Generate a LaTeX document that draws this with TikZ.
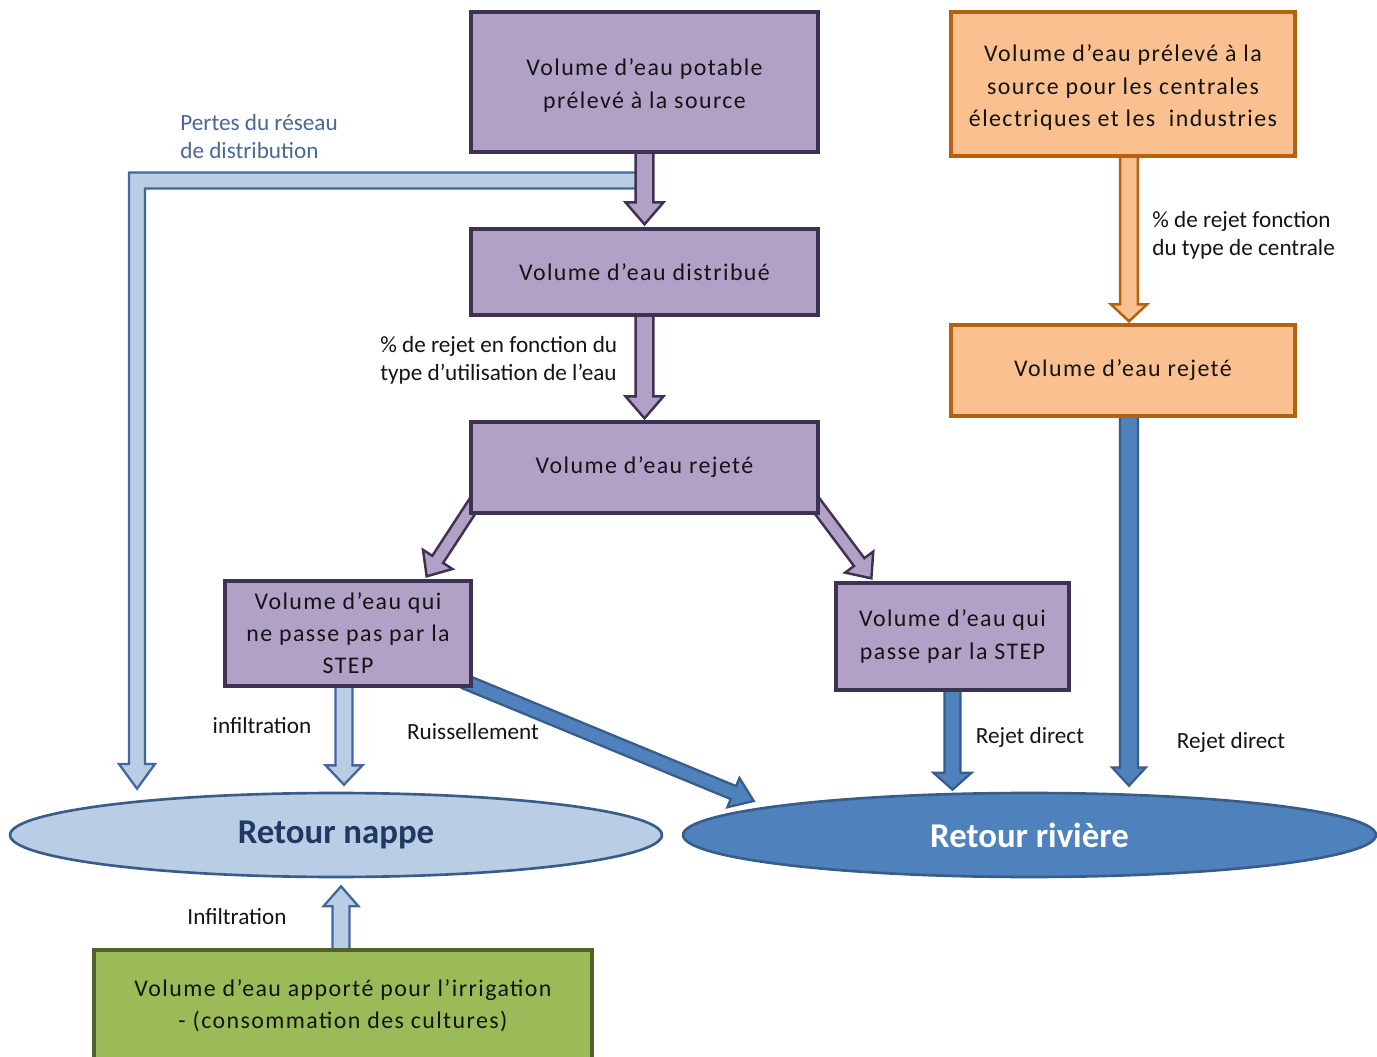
\documentclass[tikz,border=0pt]{standalone}
\usepackage{fontspec}
\setmainfont{Carlito}
\newfontfamily\boxfont[LetterSpace=6]{Carlito}
\usetikzlibrary{calc,shapes.geometric}
\pgfdeclarelayer{bg}
\pgfsetlayers{bg,main}

\definecolor{purfill}{HTML}{B2A1C7}
\definecolor{purline}{HTML}{3F3151}
\definecolor{orfill}{HTML}{FAC090}
\definecolor{orline}{HTML}{B7600F}
\definecolor{lbfill}{HTML}{B9CDE5}
\definecolor{lbline}{HTML}{41679E}
\definecolor{dbfill}{HTML}{4F81BD}
\definecolor{dbline}{HTML}{385D8A}
\definecolor{grfill}{HTML}{9BBB59}
\definecolor{grline}{HTML}{4F6228}
\definecolor{navy}{HTML}{1F3864}
\definecolor{lossblue}{HTML}{4A6891}
\definecolor{ink}{HTML}{141414}

% Outlined block arrow: #1 style, #2 start, #3 tip,
% #4 half shaft width, #5 half head width, #6 head length
\newcommand\blockarrow[6]{%
  \path[#1] let \p1=#2, \p2=#3,
      \n1={atan2(\y2-\y1,\x2-\x1)},
      \n2={veclen(\x2-\x1,\y2-\y1)} in
    ($(\p1)+(\n1+90:#4)$)
    -- ($(\p1)+(\n1:\n2-#6)+(\n1+90:#4)$)
    -- ($(\p1)+(\n1:\n2-#6)+(\n1+90:#5)$)
    -- (\p2)
    -- ($(\p1)+(\n1:\n2-#6)+(\n1-90:#5)$)
    -- ($(\p1)+(\n1:\n2-#6)+(\n1-90:#4)$)
    -- ($(\p1)+(\n1-90:#4)$) -- cycle;}
% taller first line, to sit a text block a little lower in its box
\newcommand\topgap{\rule{0pt}{13.6pt}}

\tikzset{
  box/.style={draw, line width=1.9pt, inner sep=2pt, align=center,
    font=\boxfont\fontsize{13.6}{18.3}\selectfont, text=ink},
  purplebox/.style={box, fill=purfill, draw=purline},
  orangebox/.style={box, fill=orfill, draw=orline},
  greenbox/.style={box, fill=grfill, draw=grline},
  pool/.style={ellipse, draw=dbline, line width=1.5pt, inner sep=0pt,
    font=\bfseries\fontsize{19.8}{22}\selectfont},
  lbl/.style={font=\fontsize{13.2}{15.9}\selectfont, text=ink,
    align=left, inner sep=0pt},
  purarrow/.style={fill=purfill, draw=purline, line width=1.4pt, line join=miter},
  orarrow/.style={fill=orfill, draw=orline, line width=1.4pt, line join=miter},
  lbarrow/.style={fill=lbfill, draw=lbline, line width=1.3pt, line join=miter},
  dbarrow/.style={fill=dbfill, draw=dbline, line width=1.3pt, line join=miter},
}

\begin{document}
\begin{tikzpicture}[x=0.02cm, y=-0.02cm]
\useasboundingbox (0,0) rectangle (1377,1057);

% drinking-water chain
\node[purplebox, minimum width=6.94cm, minimum height=2.8cm] (A) at (644.5,82)
  {\topgap Volume d’eau potable\\prélevé à la source};
\node[purplebox, minimum width=6.94cm, minimum height=1.72cm] (B) at (644.5,272)
  {Volume d’eau distribué};
\node[purplebox, minimum width=6.94cm, minimum height=1.82cm] (C) at (644.5,467.5)
  {Volume d’eau rejeté};
\node[purplebox, minimum width=4.92cm, minimum height=2.1cm] (D) at (348,633.5)
  {Volume d’eau qui\\ne passe pas par la\\STEP};
\node[purplebox, minimum width=4.66cm, minimum height=2.14cm] (E) at (952.5,636.5)
  {Volume d’eau qui\\passe par la STEP};

% power plants and industry
\node[orangebox, minimum width=6.88cm, minimum height=2.88cm] (F) at (1123,84)
  {\topgap Volume d’eau prélevé à la\\source pour les centrales\\électriques et les\ \ industries};
\node[orangebox, minimum width=6.88cm, minimum height=1.82cm] (G) at (1123,370.5)
  {Volume d’eau rejeté};

% irrigation
\node[greenbox, minimum width=9.96cm, minimum height=2.24cm] (H) at (343,1006)
  {Volume d’eau apporté pour l’irrigation\\- (consommation des cultures)};

% receiving pools
\node[pool, fill=lbfill, text=navy, minimum width=13.04cm, minimum height=1.68cm]
  (nappe) at (336,835) {Retour nappe};
\node[pool, fill=dbfill, text=white, minimum width=13.86cm, minimum height=1.68cm]
  (riviere) at (1029.5,835) {Retour rivière};

% labels
\node[lbl, text=lossblue, anchor=west] (lossl) at (180,137) {Pertes du réseau\\de distribution};
\node[lbl, anchor=west] (usel) at (380,360) {\% de rejet en fonction du\\type d’utilisation de l’eau};
\node[lbl, anchor=west] (plantl) at (1152,235) {\% de rejet fonction\\du type de centrale};
\node[lbl] (infl) at (262,726) {infiltration};
\node[lbl] (ruisl) at (473,732) {Ruissellement};
\node[lbl] (rdE) at (1030,737) {Rejet direct};
\node[lbl] (rdG) at (1231,742) {Rejet direct};
\node[lbl] (infH) at (237,917) {Infiltration};

\coordinate (elbow) at (137,180.5);

\begin{pgfonlayer}{bg}
  \fill[white] (0,0) rectangle (1377,1057);

  % network losses branch
  \path[lbarrow] let \p1=(A.south), \p2=(elbow),
      \p3=($(elbow |- nappe.north)+(0,-3)$) in
    (\x1,\y2+4.6pt) -- (\x2-4.6pt,\y2+4.6pt) -- (\x2-4.6pt,\y3+14pt)
    -- (\x2-10.2pt,\y3+14pt) -- (\p3) -- (\x2+10.2pt,\y3+14pt)
    -- (\x2+4.6pt,\y3+14pt) -- (\x2+4.6pt,\y2-4.6pt) -- (\x1,\y2-4.6pt) -- cycle;

  \blockarrow{purarrow}{($(A.south)+(0,-4)$)}{($(B.north)+(0,-3)$)}{5.1pt}{10.8pt}{12.5pt}
  \blockarrow{purarrow}{($(B.south)+(0,-4)$)}{($(C.north)+(0,-2)$)}{5.1pt}{10.8pt}{12.5pt}
  \blockarrow{purarrow}{($(C.south west)+(8,-16)$)}{($(D.north east)+(-46,-3)$)}{3.7pt}{10pt}{11.5pt}
  \blockarrow{purarrow}{($(C.south east)+(-8,-16)$)}{($(E.north west)+(37,-3)$)}{3.7pt}{10pt}{11.5pt}

  \blockarrow{lbarrow}{($(D.south)+(-4,-4)$)}{($(nappe.north)+(8,-7)$)}{4.8pt}{10.5pt}{11pt}
  \blockarrow{dbarrow}{($(D.south east)+(-8,-6)$)}{($(riviere.west)+(72,-34)$)}{4pt}{9pt}{12.5pt}
  \blockarrow{dbarrow}{($(E.south)+(0,-4)$)}{($(E.south |- riviere.north)+(0,-2)$)}{4.6pt}{10.8pt}{9.6pt}

  \blockarrow{orarrow}{($(F.south)+(6,-4)$)}{($(G.north)+(6,-2)$)}{5.1pt}{10.2pt}{9.6pt}
  \blockarrow{dbarrow}{($(G.south)+(6,-4)$)}{($(G.south |- riviere.north)+(6,-6)$)}{5.1pt}{9.6pt}{10.4pt}

  \blockarrow{lbarrow}{($(H.north)+(-2,4)$)}{($(H.north |- nappe.south)+(-2,8)$)}{4.8pt}{9.9pt}{11.3pt}
\end{pgfonlayer}
\end{tikzpicture}
\end{document}
